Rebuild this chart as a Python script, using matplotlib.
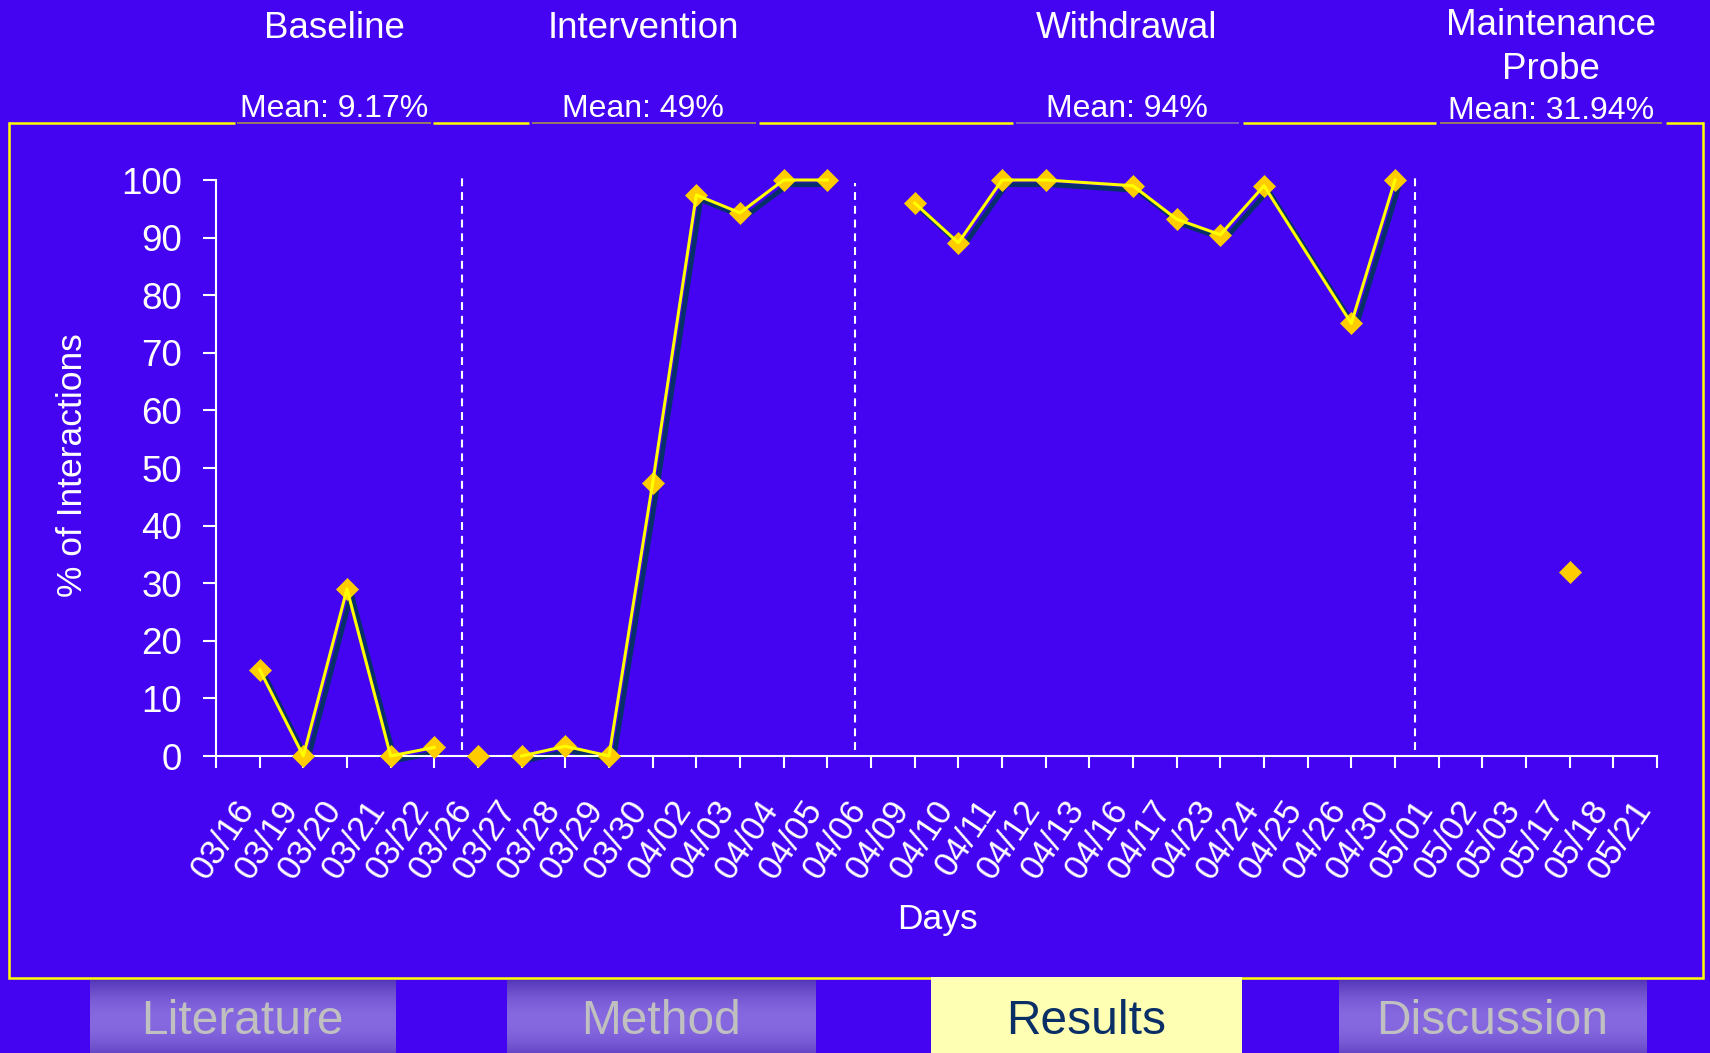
import numpy as np
import matplotlib
matplotlib.use("Agg")
import matplotlib.pyplot as plt
from matplotlib import transforms as mtransforms
from matplotlib.patches import Rectangle

plt.rcParams['font.family'] = ['Liberation Sans', 'DejaVu Sans']

# ---- data ----
days = ['03/16', '03/19', '03/20', '03/21', '03/22', '03/26', '03/27', '03/28',
        '03/29', '03/30', '04/02', '04/03', '04/04', '04/05', '04/06', '04/09',
        '04/10', '04/11', '04/12', '04/13', '04/16', '04/17', '04/23', '04/24',
        '04/25', '04/26', '04/30', '05/01', '05/02', '05/03', '05/17', '05/18',
        '05/21']
nan = np.nan
interactions = [15, 0, 29, 0, 1.5, 0, 0, 1.7, 0, 47.4, 97.4, 94.3, 100, 100, nan,
                96, 89.1, 100, 100, nan, 99, 93.2, 90.5, 99, nan, 75.1, 100,
                nan, nan, nan, 31.94, nan, nan]
# index ranges joined by a line (gaps inside a run are bridged)
connected_runs = [(0, 4), (6, 13), (15, 26)]
phase_breaks = [4.63, 13.63, 26.46]
phase_break_tops = [100.9, 99.5, 100.9]
phase_names = ['Baseline', 'Intervention', 'Withdrawal', 'Maintenance\nProbe']
phase_means = ['Mean: 9.17%', 'Mean: 49%', 'Mean: 94%', 'Mean: 31.94%']
buttons = ['Literature', 'Method', 'Results', 'Discussion']
active_button = 'Results'

# ---- style ----
W, H, DPI = 1710, 1053, 100
BG = '#4404f2'
YELLOW = '#ffff00'
GOLD = '#ffcc00'
SHADOW = '#07306a'

fig = plt.figure(figsize=(W / DPI, H / DPI), dpi=DPI, facecolor=BG)

# decoration layer in pixel coordinates
deco = fig.add_axes([0, 0, 1, 1], zorder=0)
deco.axis('off')

# slide frame
fw = 1.8
deco.plot([9, 9, 1703, 1703], [123, 978, 978, 123], color=YELLOW, lw=fw,
          solid_joinstyle='miter')
for x0, x1 in [(9, 235), (433, 529), (759, 1013), (1243, 1436), (1666, 1703)]:
    deco.plot([x0, x1], [123, 123], color=YELLOW, lw=fw, solid_capstyle='butt')
for (x0, x1), c in zip([(237, 431), (532, 756), (1016, 1239), (1440, 1662)],
                       ['#b09a3c', '#b09a3c', '#8a76b4', '#b09a3c']):
    deco.plot([x0, x1], [123, 123], color=c, lw=1.1, solid_capstyle='butt')

# phase headers
head_x = [334, 643, 1127, 1551]
for name, mean, cx in zip(phase_names, phase_means, head_x):
    lines = name.split('\n')
    if len(lines) == 1:
        deco.text(cx, 38, lines[0], ha='center', va='baseline', fontsize=26.5,
                  color='white')
        deco.text(cx, 117, mean, ha='center', va='baseline', fontsize=23,
                  color='white')
    else:
        deco.text(cx, 35, lines[0], ha='center', va='baseline', fontsize=26.5,
                  color='white')
        deco.text(cx, 79, lines[1], ha='center', va='baseline', fontsize=26.5,
                  color='white')
        deco.text(cx, 119, mean, ha='center', va='baseline', fontsize=23,
                  color='white')

# navigation buttons
btn_x = [(90, 395), (507, 815), (931, 1242), (1339, 1646)]
rows = np.arange(980, 1062)
f = np.clip(1 - ((rows - 1020) / 40.0) ** 2, 0, 1)
dark = np.array([84, 54, 184]) / 255
light = np.array([134, 104, 224]) / 255
grad = (dark[None, :] + (light - dark)[None, :] * f[:, None])[:, None, :]
for label, (x0, x1) in zip(buttons, btn_x):
    cx = (x0 + x1) / 2
    if label == active_button:
        deco.add_patch(Rectangle((x0, 977), x1 - x0, 90, facecolor='#ffffb4',
                                 edgecolor='none', zorder=2))
        deco.text(cx, 1034, label, ha='center', va='baseline', fontsize=34.5,
                  color='#0a2f66', zorder=3)
    else:
        deco.imshow(grad, extent=(x0, x1, 1062, 980), aspect='auto',
                    interpolation='bilinear', zorder=2)
        deco.text(cx, 1034, label, ha='center', va='baseline', fontsize=34.5,
                  color='#c0c0c0', zorder=3)

deco.text(72, 465, '% of Interactions', rotation=90, ha='center', va='center',
          fontsize=25.5, color='white')
deco.text(937, 929, 'Days', ha='center', va='baseline', fontsize=25.5,
          color='white')
deco.set_xlim(0, W)
deco.set_ylim(H, 0)

# ---- chart ----
ax = fig.add_axes([216 / W, 1 - 756 / H, (1657 - 216) / W, (756 - 180) / H],
                  zorder=1)
ax.set_facecolor('none')
ax.set_xlim(-1, len(days) - 1)
ax.set_ylim(0, 100)
for s in ['top', 'right']:
    ax.spines[s].set_visible(False)
for s in ['left', 'bottom']:
    ax.spines[s].set_color('white')
    ax.spines[s].set_linewidth(1.5)

ax.set_yticks(range(0, 101, 10))
ax.tick_params(axis='y', colors='white', labelsize=26.5, length=9.4, width=1.5,
               pad=15)
ax.set_xticks(range(-1, len(days)))
ax.set_xticklabels([])
ax.tick_params(axis='x', colors='white', length=8.6, width=1.5)

lab_tr = (mtransforms.blended_transform_factory(ax.transData, ax.transAxes)
          + mtransforms.ScaledTranslation(-4 / DPI, -38 / DPI, fig.dpi_scale_trans))
for i, d in enumerate(days):
    ax.text(i - 0.5, 0, d, transform=lab_tr, rotation=56, rotation_mode='anchor',
            ha='right', va='top', fontsize=25, color='white')

# phase change lines
for b, top in zip(phase_breaks, phase_break_tops):
    ax.plot([b, b], [1, top], color='white', lw=1.5, ls=(0, (3.8, 2.8)),
            clip_on=False, zorder=1)

x = np.arange(len(days))
y = np.array(interactions, dtype=float)
shadow_tr = ax.transData + mtransforms.ScaledTranslation(3.2 / 72, -3.4 / 72,
                                                         fig.dpi_scale_trans)
for a, b in connected_runs:
    sx, sy = x[a:b + 1], y[a:b + 1]
    ok = ~np.isnan(sy)
    ax.plot(sx[ok], sy[ok], color=SHADOW, lw=3.4, transform=shadow_tr,
            clip_on=False, zorder=2)
ax.plot(x, y, ls='none', marker='D', ms=11.5, color=GOLD, mec=GOLD, mew=0.5,
        clip_on=False, zorder=3)
for a, b in connected_runs:
    sx, sy = x[a:b + 1], y[a:b + 1]
    ok = ~np.isnan(sy)
    ax.plot(sx[ok], sy[ok], color=YELLOW, lw=2.2, clip_on=False, zorder=4)

fig.savefig('out.png', dpi=DPI, facecolor=BG)
